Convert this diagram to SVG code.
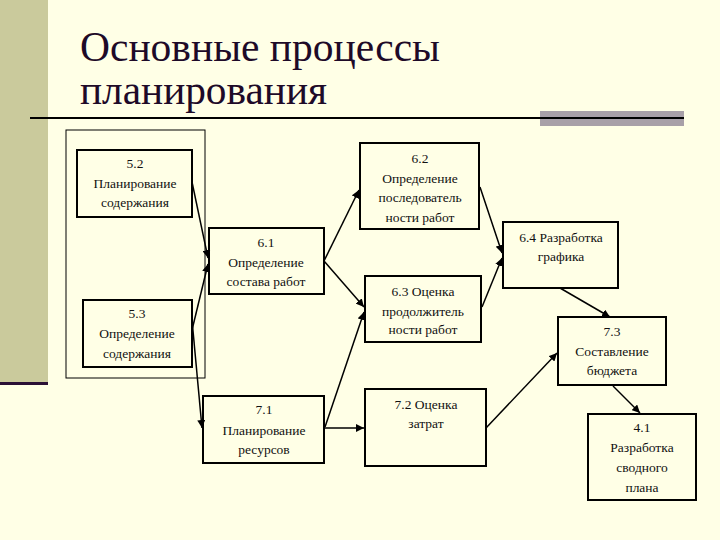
<svg xmlns="http://www.w3.org/2000/svg" width="720" height="540" viewBox="0 0 720 540">
<defs>
<style>
.box{fill:none;stroke:#000;stroke-width:2}
.t{font-family:'Liberation Serif','Liberation Sans',sans-serif;font-size:13.5px;fill:#111;text-anchor:middle}
.title{font-family:'Liberation Serif','Liberation Sans',sans-serif;font-size:42px;fill:#1E0A28}
.c{stroke:#000;stroke-width:1.5;fill:none;marker-end:url(#ah)}
</style>
<marker id="ah" viewBox="0 0 10 10" refX="10" refY="5" markerWidth="8" markerHeight="8" markerUnits="userSpaceOnUse" orient="auto">
<path d="M0,0 L10,5 L0,10 Z" fill="#000"/>
</marker>
</defs>
<rect x="0" y="0" width="720" height="540" fill="#FFFFE6"/>
<rect x="0" y="0" width="48" height="382" fill="#CACA9C"/>
<rect x="0" y="382" width="48" height="3" fill="#2A1035"/>
<g id="title">
<text class="title" x="80" y="61" textLength="360" lengthAdjust="spacingAndGlyphs">Основные процессы</text>
<text class="title" x="80" y="104" textLength="247" lengthAdjust="spacingAndGlyphs">планирования</text>
<rect x="540" y="111" width="144" height="15" fill="#A8A0A8"/>
<line x1="30" y1="118" x2="684" y2="118" stroke="#000" stroke-width="2"/>
</g>
<rect x="66" y="130" width="139" height="248" fill="none" stroke="#000" stroke-width="1"/>
<g id="n52">
<rect class="box" x="77" y="150" width="115" height="67"/>
<text class="t" x="135" y="168">5.2</text>
<text class="t" x="135" y="188">Планирование</text>
<text class="t" x="135" y="207">содержания</text>
</g>
<g id="n53">
<rect class="box" x="83" y="300" width="109" height="67"/>
<text class="t" x="137" y="318">5.3</text>
<text class="t" x="137" y="338">Определение</text>
<text class="t" x="137" y="358">содержания</text>
</g>
<g id="n61">
<rect class="box" x="209" y="228" width="115" height="66"/>
<text class="t" x="266" y="247">6.1</text>
<text class="t" x="266" y="267">Определение</text>
<text class="t" x="266" y="286">состава работ</text>
</g>
<g id="n62">
<rect class="box" x="360" y="143" width="119" height="86"/>
<text class="t" x="420" y="163">6.2</text>
<text class="t" x="420" y="183">Определение</text>
<text class="t" x="420" y="202">последователь</text>
<text class="t" x="420" y="222">ности работ</text>
</g>
<g id="n63">
<rect class="box" x="365" y="276" width="116" height="66"/>
<text class="t" x="423" y="296">6.3 Оценка</text>
<text class="t" x="423" y="316">продолжитель</text>
<text class="t" x="423" y="334">ности работ</text>
</g>
<g id="n64">
<rect class="box" x="503" y="222" width="115" height="66"/>
<text class="t" x="561" y="242">6.4 Разработка</text>
<text class="t" x="561" y="261">графика</text>
</g>
<g id="n71">
<rect class="box" x="203" y="396" width="121" height="67"/>
<text class="t" x="264" y="414">7.1</text>
<text class="t" x="264" y="435">Планирование</text>
<text class="t" x="264" y="454">ресурсов</text>
</g>
<g id="n72">
<rect class="box" x="365" y="389" width="121" height="77"/>
<text class="t" x="426" y="409">7.2 Оценка</text>
<text class="t" x="426" y="428">затрат</text>
</g>
<g id="n73">
<rect class="box" x="558" y="317" width="108" height="68"/>
<text class="t" x="612" y="336">7.3</text>
<text class="t" x="612" y="356">Составление</text>
<text class="t" x="612" y="375">бюджета</text>
</g>
<g id="n41">
<rect class="box" x="588" y="414" width="108" height="86"/>
<text class="t" x="642" y="432">4.1</text>
<text class="t" x="642" y="452">Разработка</text>
<text class="t" x="642" y="472">сводного</text>
<text class="t" x="642" y="492">плана</text>
</g>
<g id="connectors">
<line class="c" x1="192" y1="182" x2="208" y2="258"/>
<line class="c" x1="192" y1="330" x2="208" y2="264"/>
<line class="c" x1="192" y1="320" x2="202" y2="428"/>
<line class="c" x1="324" y1="261" x2="359" y2="190"/>
<line class="c" x1="324" y1="261" x2="364" y2="307"/>
<line class="c" x1="325" y1="427" x2="364" y2="312"/>
<line class="c" x1="324" y1="428" x2="364" y2="428"/>
<line class="c" x1="480" y1="187" x2="502" y2="253"/>
<line class="c" x1="482" y1="307" x2="502" y2="258"/>
<line class="c" x1="560" y1="288" x2="610" y2="317"/>
<line class="c" x1="486" y1="428" x2="557" y2="353"/>
<line class="c" x1="613" y1="386" x2="640" y2="413"/>
</g>
</svg>
